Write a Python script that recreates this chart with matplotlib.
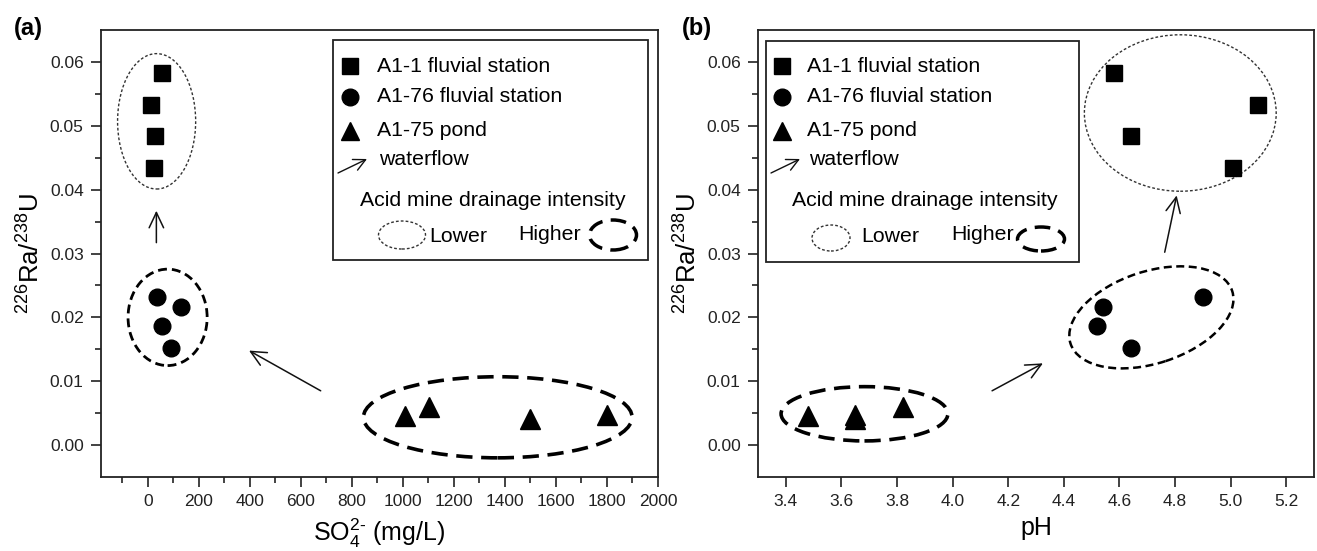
import matplotlib
matplotlib.use("Agg")
import matplotlib.pyplot as plt
from matplotlib.patches import Ellipse, FancyArrowPatch, Rectangle
from matplotlib.lines import Line2D
from matplotlib.transforms import ScaledTranslation

plt.rcParams['font.family'] = ['Liberation Sans', 'DejaVu Sans']
plt.rcParams['mathtext.fontset'] = 'custom'
plt.rcParams['mathtext.rm'] = 'Liberation Sans'
plt.rcParams['mathtext.it'] = 'Liberation Sans:italic'
plt.rcParams['mathtext.bf'] = 'Liberation Sans:bold'

# %% data: 226Ra/238U activity ratio vs sulfate and pH
station_names = ["A1-1 fluvial station", "A1-76 fluvial station", "A1-75 pond"]

so4_a1 = [55, 14, 27, 24]
ph_a1 = [4.58, 5.10, 4.64, 5.01]
ratio_a1 = [0.0583, 0.0532, 0.0484, 0.0434]

so4_a76 = [37, 130, 56, 92]
ph_a76 = [4.90, 4.54, 4.52, 4.64]
ratio_a76 = [0.0232, 0.0216, 0.0187, 0.0152]

so4_a75 = [1008, 1102, 1498, 1800]
ph_a75 = [3.48, 3.82, 3.65, 3.65]
ratio_a75 = [0.0045, 0.0060, 0.0041, 0.0047]

W, H = 1317, 551
fig = plt.figure(figsize=(W / 100, H / 100), dpi=100)


def fpos(x, y):
    # pixel position -> figure fraction
    return x / W, 1 - y / H


ax1 = fig.add_axes([101 / W, 1 - 477 / H, 557 / W, 447 / H])
ax2 = fig.add_axes([758 / W, 1 - 477 / H, 556 / W, 447 / H])

DOT = (0, (2, 1.5))
DASH_MED = (0, (3.2, 1.8))
DASH_BIG = (0, (4.5, 2.4))
ink = '#111111'
LEG_FS = 15.3


def style_axes(ax):
    for sp in ax.spines.values():
        sp.set_linewidth(1.3)
        sp.set_color('#222222')
    ax.set_ylim(-0.005, 0.065)
    ax.set_yticks([0, 0.01, 0.02, 0.03, 0.04, 0.05, 0.06])
    ax.set_yticks([0.005, 0.015, 0.025, 0.035, 0.045, 0.055], minor=True)
    ax.yaxis.set_major_formatter(matplotlib.ticker.FormatStrFormatter('%.2f'))
    ax.tick_params(which='major', direction='out', length=7.5, width=1.2,
                   labelsize=12.5, pad=5, colors='#222222')
    ax.tick_params(which='minor', direction='out', length=4, width=1.2,
                   colors='#222222')
    ax.set_ylabel(r'$^{226}$Ra/$^{238}$U', fontsize=18.5)
    ax.yaxis.set_label_coords(-0.102, 0.5)


def scatter_points(ax, xs):
    ax.plot(xs[0], ratio_a1, 's', ms=11, color='black', ls='none')
    ax.plot(xs[1], ratio_a76, 'o', ms=12, color='black', ls='none')
    ax.plot(xs[2], ratio_a75, '^', ms=14, color='black', ls='none')


def flow_arrow(ax, start, end):
    ax.add_patch(FancyArrowPatch(start, end,
                                 arrowstyle='->,head_length=0.55,head_width=0.26',
                                 mutation_scale=20, lw=1.1, color=ink,
                                 shrinkA=0, shrinkB=0))


def legend_box(x0, y0, x1, y1, mx, tx, lower, higher, txt_x, low_x, high_x):
    bx, by = fpos(x0, y1)
    box = Rectangle((bx, by), (x1 - x0) / W, (y1 - y0) / H, fill=True,
                    facecolor='white', edgecolor='#222222', lw=1.3,
                    transform=fig.transFigure, zorder=5)
    fig.add_artist(box)
    rows = [('s', 11, 66), ('o', 12, 97), ('^', 13.5, 131)]
    for (mk, ms, yy), name in zip(rows, station_names):
        m = Line2D([fpos(mx, yy)[0]], [fpos(mx, yy)[1]], marker=mk, ms=ms,
                   color='black', ls='none', transform=fig.transFigure,
                   zorder=6)
        fig.add_artist(m)
        fig.text(*fpos(tx, yy), name, fontsize=LEG_FS, va='center',
                 ha='left', zorder=6)
    a = FancyArrowPatch(fpos(x0 + 5, 173), fpos(x0 + 34, 159),
                        arrowstyle='->,head_length=0.5,head_width=0.25',
                        mutation_scale=17, lw=1.0, color=ink, shrinkA=0,
                        shrinkB=0, transform=fig.transFigure, zorder=6)
    fig.add_artist(a)
    fig.text(*fpos(tx + 2, 159), 'waterflow', fontsize=LEG_FS, va='center',
             zorder=6)
    fig.text(*fpos(txt_x, 201), 'Acid mine drainage intensity',
             fontsize=LEG_FS, va='center', zorder=6)
    cx, cy, w, h = lower
    e = Ellipse(fpos(cx, cy), w / W, h / H, fill=False, lw=1.0, ls=DOT,
                edgecolor='#333333', transform=fig.transFigure, zorder=6)
    fig.add_artist(e)
    fig.text(*fpos(low_x, 236), 'Lower', fontsize=LEG_FS, va='center',
             zorder=6)
    fig.text(*fpos(high_x, 235), 'Higher', fontsize=LEG_FS, va='center',
             zorder=6)
    cx, cy, w, h = higher
    e = Ellipse(fpos(cx, cy), w / W, h / H, fill=False, lw=2.5, ls=DASH_BIG,
                edgecolor='black', transform=fig.transFigure, zorder=6)
    fig.add_artist(e)


# %% (a) sulfate
style_axes(ax1)
ax1.set_xlim(-183, 2000)
ax1.set_xticks(range(0, 2001, 200))
ax1.set_xticks(range(-100, 2000, 200), minor=True)
ax1.set_xlabel(r'SO$_4^{2\text{-}}$ (mg/L)', fontsize=18)
ax1.xaxis.set_label_coords(0.5, -0.088)
scatter_points(ax1, [so4_a1, so4_a76, so4_a75])

ax1.add_patch(Ellipse((35, 0.0507), 306, 0.0212, fill=False, lw=1.0,
                      ls=DOT, edgecolor='#333333'))
ax1.add_patch(Ellipse((78, 0.0200), 310, 0.0151, fill=False, lw=2.0,
                      ls=DASH_MED, edgecolor='black'))
ax1.add_patch(Ellipse((1372, 0.00435), 1053, 0.0127, fill=False, lw=2.6,
                      ls=DASH_BIG, edgecolor='black'))
flow_arrow(ax1, (34, 0.0317), (34, 0.0367))
flow_arrow(ax1, (678, 0.0085), (397, 0.0148))

# %% (b) pH
style_axes(ax2)
ax2.set_xlim(3.3, 5.3)
ax2.set_xticks([3.4 + 0.2 * i for i in range(10)])
ax2.xaxis.set_major_formatter(matplotlib.ticker.FormatStrFormatter('%.1f'))
ax2.set_xlabel('pH', fontsize=18)
ax2.xaxis.set_label_coords(0.5, -0.088)
scatter_points(ax2, [ph_a1, ph_a76, ph_a75])

ax2.add_patch(Ellipse((4.819, 0.0520), 0.69, 0.0245, fill=False, lw=1.0,
                      ls=DOT, edgecolor='#333333'))
# tilted ellipse, sized in inches around a data-space centre
tilt = Ellipse((0, 0), 1.70, 0.92, angle=18, fill=False, lw=1.8,
               ls=DASH_MED, edgecolor='black',
               transform=fig.dpi_scale_trans + ScaledTranslation(
                   4.715, 0.0200, ax2.transData))
ax2.add_patch(tilt)
ax2.add_patch(Ellipse((3.683, 0.0049), 0.60, 0.0085, fill=False, lw=2.6,
                      ls=DASH_BIG, edgecolor='black'))
flow_arrow(ax2, (4.142, 0.0085), (4.325, 0.0128))
flow_arrow(ax2, (4.763, 0.0302), (4.806, 0.0391))

# %% hand-built legends
legend_box(333, 40, 648, 260, 350, 377, (402, 235, 47, 28), (613, 235, 47, 30),
           360, 429, 518)
legend_box(766, 41, 1079, 262, 782, 807, (831, 238, 38, 26), (1041, 239, 47, 24),
           792, 861, 951)

fig.text(*fpos(14, 29), '(a)', fontsize=17, fontweight='bold', va='center')
fig.text(*fpos(682, 29), '(b)', fontsize=17, fontweight='bold', va='center')

fig.savefig('out.png', dpi=100)
